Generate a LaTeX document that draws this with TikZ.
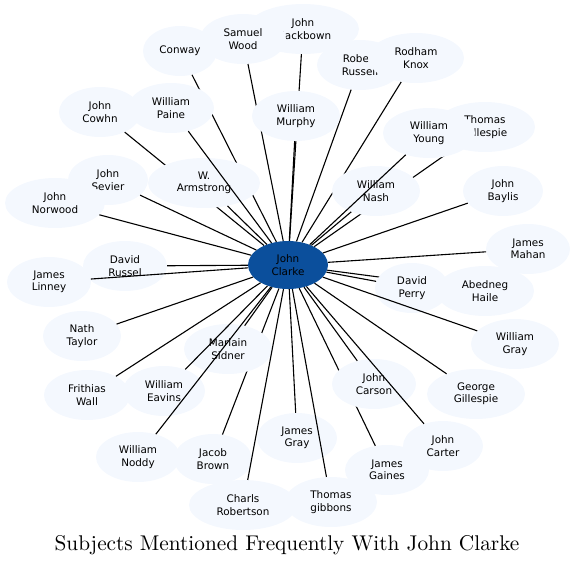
\documentclass[tikz,border=0pt]{standalone}
\usepackage{fontspec}
\usetikzlibrary{shapes.geometric}
\newfontfamily\nodefont{DejaVu Sans}
\newfontfamily\titlefont{lmroman10-regular.otf}
\definecolor{leaffill}{RGB}{244,248,254}
\definecolor{hubfill}{RGB}{11,79,156}

\begin{document}
\begin{tikzpicture}[x=1pt, y=-1pt,
    leaf/.style={ellipse, fill=leaffill, inner sep=0pt, minimum height=50pt,
                 align=center, font=\nodefont\fontsize{10.4}{12.3}\selectfont},
    hub/.style={leaf, fill=hubfill, minimum width=80pt, minimum height=48pt},
    link/.style={line width=1.1pt}]
  \useasboundingbox (0,0) rectangle (575,566);
  \node[hub] (clarke) at (288,265) {John\\Clarke};
  % each leaf is drawn, then its link, so later leaves hide earlier links
  \foreach \id/\px/\py/\ew/\txt in {
    conway/180/51/74/{Conway},
    cowhn/100/112/82/{John\\Cowhn},
    blackbown/303/29/112/{John\\Blackbown},
    russell/360/65/86/{Robert\\Russell},
    tgillespie/485/127/100/{Thomas\\Gillespie},
    gaines/387/470/84/{James\\Gaines},
    jgray/297/438/80/{James\\Gray},
    jbrown/213/459/78/{Jacob\\Brown},
    haile/485/291/98/{Abedneg\\Haile},
    drussel/125/266/84/{David\\Russel},
    armstrong/204/183/112/{W.\\Armstrong},
    swood/243/39/86/{Samuel\\Wood},
    knox/416/58/96/{Rodham\\Knox},
    carson/374/384/84/{John\\Carson},
    tgibbons/331/502/92/{Thomas\\gibbons},
    sidner/228/349/88/{Marlain\\Sidner},
    perry/412/288/74/{David\\Perry},
    linney/49/282/84/{James\\Linney},
    paine/171/108/86/{William\\Paine},
    murphy/296/116/88/{William\\Murphy},
    nash/376/191/88/{William\\Nash},
    carter/443/446/80/{John\\Carter},
    eavins/164/391/82/{William\\Eavins},
    noddy/138/457/84/{William\\Noddy},
    wyoung/429/133/92/{William\\Young},
    sevier/108/180/80/{John\\Sevier},
    norwood/55/203/100/{John\\Norwood},
    baylis/503/191/80/{John\\Baylis},
    mahan/528/249/84/{James\\Mahan},
    wgray/515/344/88/{William\\Gray},
    ggillespie/476/394/98/{George\\Gillespie},
    robertson/243/505/108/{Charls\\Robertson},
    wall/87/395/86/{Frithias\\Wall},
    taylor/82/336/78/{Nath\\Taylor}}{
    \node[leaf, minimum width=\ew pt] (\id) at (\px,\py) {\txt};
    \draw[link] (clarke) -- (\id);
  }
  \node (title) at (287,545) {\titlefont\fontsize{21.3}{24}\selectfont Subjects Mentioned Frequently With John Clarke};
\end{tikzpicture}
\end{document}
